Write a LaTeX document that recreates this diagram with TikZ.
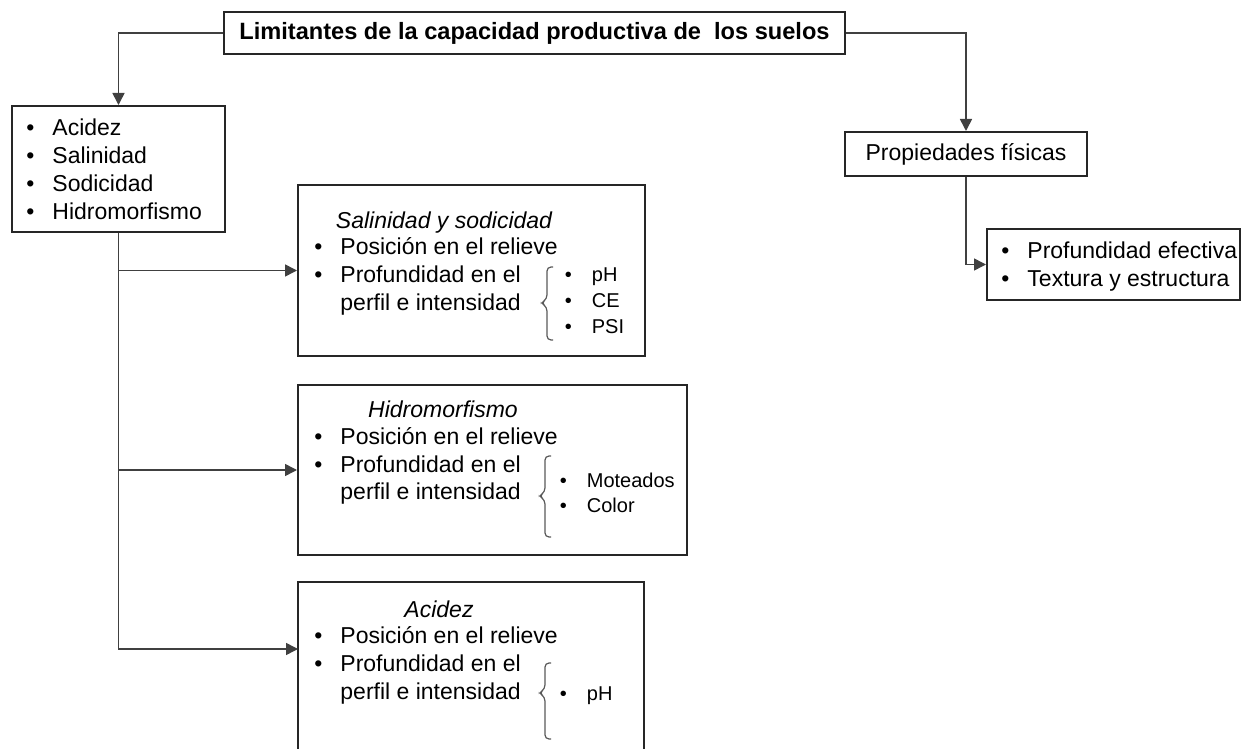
\documentclass[tikz,border=0pt]{standalone}
\usepackage{fontspec}
\setmainfont{Liberation Sans}
\usetikzlibrary{arrows.meta}
\newcommand{\tx}{\fontsize{11.5}{14}\selectfont}
\newcommand{\txsub}{\fontsize{10}{13}\selectfont}

\begin{document}
\begin{tikzpicture}[x=0.5pt,y=-0.5pt,
  box/.style={draw=black!85,line width=1pt,inner sep=0pt,font=\tx},
  lst/.style={inner sep=0pt,anchor=base west,font=\tx},
  sublst/.style={inner sep=0pt,anchor=base west,font=\txsub},
  ttl/.style={inner sep=0pt,anchor=base,font=\tx\itshape},
  arr/.style={draw=black!75,line width=0.8pt,-{Triangle[length=6pt,width=6pt]}},
  brc/.style={draw=black!65,line width=0.6pt,rounded corners=2pt}]
\useasboundingbox (0,0) rectangle (1244,749);
\clip (0,0) rectangle (1244,749);
\node[box,minimum width=310.5pt,minimum height=21pt,font=\fontsize{11.8}{14}\selectfont\bfseries] (lim) at (534.5,33) {Limitantes de la capacidad productiva de~~los suelos};
\node[box,minimum width=106.5pt,minimum height=63pt] (quim) at (118.5,169) {};
\node[box,minimum width=173.5pt,minimum height=85.5pt] (sal) at (471.5,270.5) {};
\node[box,minimum width=194.5pt,minimum height=85pt] (hid) at (492.5,470) {};
\node[box,minimum width=173pt,minimum height=109pt] (aci) at (471,691) {};
\node[box,minimum width=121pt,minimum height=22pt] (fis) at (966,154) {Propiedades físicas};
\node[box,minimum width=126.5pt,minimum height=35.5pt] (prof) at (1113.5,264.5) {};
\coordinate (acin) at (298,649);

\node[lst] (quimtxt) at (26,136) {\begin{tabular}[t]{@{}l@{\hspace{9pt}}l@{}}\textbullet & Acidez\\ \textbullet & Salinidad\\ \textbullet & Sodicidad\\ \textbullet & Hidromorfismo\end{tabular}};
\node[ttl] (saltit) at (444,228) {Salinidad y sodicidad};
\node[lst] (saltxt) at (314,255) {\begin{tabular}[t]{@{}l@{\hspace{9pt}}l@{}}\textbullet & Posición en el relieve\\ \textbullet & Profundidad en el\\ & perfil e intensidad\end{tabular}};
\node[sublst] (salsub) at (564.5,282) {\begin{tabular}[t]{@{}l@{\hspace{10pt}}l@{}}\textbullet & pH\\ \textbullet & CE\\ \textbullet & PSI\end{tabular}};
\node[ttl] (hidtit) at (443,417) {Hidromorfismo};
\node[lst] (hidtxt) at (314,444) {\begin{tabular}[t]{@{}l@{\hspace{9pt}}l@{}}\textbullet & Posición en el relieve\\ \textbullet & Profundidad en el\\ & perfil e intensidad\end{tabular}};
\node[sublst] (hidsub) at (559.5,487) {\begin{tabular}[t]{@{}l@{\hspace{10pt}}l@{}}\textbullet & Moteados\\ \textbullet & Color\end{tabular}};
\node[ttl] (acitit) at (439,617) {Acidez};
\node[lst] (acitxt) at (314,643) {\begin{tabular}[t]{@{}l@{\hspace{9pt}}l@{}}\textbullet & Posición en el relieve\\ \textbullet & Profundidad en el\\ & perfil e intensidad\end{tabular}};
\node[sublst] (acisub) at (559.5,700) {\begin{tabular}[t]{@{}l@{\hspace{10pt}}l@{}}\textbullet & pH\end{tabular}};
\node[lst] (proftxt) at (1001,258) {\begin{tabular}[t]{@{}l@{\hspace{9pt}}l@{}}\textbullet & Profundidad efectiva\\ \textbullet & Textura y estructura\end{tabular}};

\draw[brc] (553,267) -- (547,267) -- (547,299) -- (541,303) -- (547,307) -- (547,340) -- (553,340);
\draw[brc] (551,456) -- (545,456) -- (545,492) -- (539,496) -- (545,500) -- (545,537) -- (551,537);
\draw[brc] (551,663) -- (545,663) -- (545,689) -- (539,693) -- (545,697) -- (545,739) -- (551,739);

\draw[arr] (lim.west) -| (quim.north);
\draw[arr] (lim.east) -| (fis.north);
\draw[arr] (fis.south) |- (prof.west);
\draw[arr] (quim.south) |- (sal.west);
\draw[arr] (quim.south) |- (hid.west);
\draw[arr] (quim.south) |- (acin);
\end{tikzpicture}
\end{document}
